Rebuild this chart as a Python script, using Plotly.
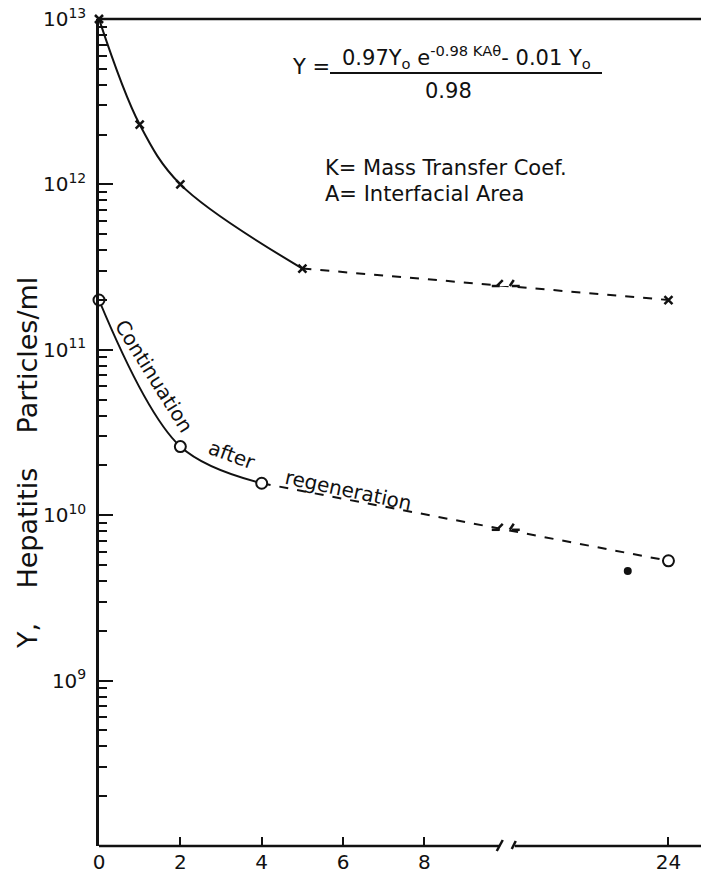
import math
import plotly.graph_objects as go

# ---------------- data (hours, particles/ml) ----------------
hours_upper = [0, 1, 2, 5, 24]
values_upper = [1.0e13, 2.3e12, 1.0e12, 3.1e11, 2.0e11]

hours_lower = [0, 2, 4, 24]
values_lower = [2.0e11, 2.6e10, 1.56e10, 5.3e9]

hours_extra = [23]
values_extra = [4.6e9]

x_tick_hours = [0, 2, 4, 6, 8, 24]
x_tick_labels = ["0", "2", "4", "6", "8", "24"]
y_tick_vals = [1e9, 1e10, 1e11, 1e12, 1e13]
y_tick_labels = ["10<sup>9</sup>", "10<sup>10</sup>", "10<sup>11</sup>",
                 "10<sup>12</sup>", "10<sup>13</sup>"]

BREAK_AT = 10   # axis position of the scale break
GAP = 10        # hours skipped by the break


def axis_pos(h):
    return h if h <= BREAK_AT else h - GAP


# ---------------- layout geometry ----------------
W, H = 701, 873
L, R, T, B = 99, 0, 19, 27
PW, PH = W - L - R, H - T - B


def px(x):
    return (x - L) / PW


def py(y):
    return (H - B - y) / PH


FONT = "DejaVu Sans"
BLACK = "#111111"

fig = go.Figure()

up_x = [axis_pos(h) for h in hours_upper]
lo_x = [axis_pos(h) for h in hours_lower]

# upper series: solid curve to 5 h, dashed afterwards
fig.add_trace(go.Scatter(x=up_x[:4], y=values_upper[:4], mode="lines",
                         line=dict(color=BLACK, width=2, shape="spline", smoothing=1.0),
                         hoverinfo="skip", showlegend=False))
fig.add_trace(go.Scatter(x=up_x[3:], y=values_upper[3:], mode="lines",
                         line=dict(color=BLACK, width=2, dash="9px,9px"),
                         hoverinfo="skip", showlegend=False))
# lower series: solid curve to 4 h, dashed afterwards
fig.add_trace(go.Scatter(x=lo_x[:3], y=values_lower[:3], mode="lines",
                         line=dict(color=BLACK, width=2, shape="spline", smoothing=1.0),
                         hoverinfo="skip", showlegend=False))
fig.add_trace(go.Scatter(x=lo_x[2:], y=values_lower[2:], mode="lines",
                         line=dict(color=BLACK, width=2, dash="9px,9px"),
                         hoverinfo="skip", showlegend=False))

# markers
fig.add_trace(go.Scatter(x=up_x, y=values_upper, mode="markers", cliponaxis=False,
                         marker=dict(symbol="x-thin", size=8,
                                     line=dict(color=BLACK, width=2.5)),
                         showlegend=False))
fig.add_trace(go.Scatter(x=lo_x, y=values_lower, mode="markers", cliponaxis=False,
                         marker=dict(symbol="circle", size=11, color="white",
                                     line=dict(color=BLACK, width=2)),
                         showlegend=False))
fig.add_trace(go.Scatter(x=[axis_pos(h) for h in hours_extra], y=values_extra,
                         mode="markers",
                         marker=dict(symbol="circle", size=8, color=BLACK),
                         showlegend=False))

# ---------------- scale-break decorations ----------------
shapes = []


def loginterp(x0, y0, x1, y1, x):
    t = (x - x0) / (x1 - x0)
    return 10 ** (math.log10(y0) + t * (math.log10(y1) - math.log10(y0)))


def break_mark(yanchor, yref="y"):
    common = dict(xref="x", yref=yref, xsizemode="pixel", ysizemode="pixel",
                  xanchor=BREAK_AT, yanchor=yanchor)
    shapes.append(dict(type="rect", x0=-6, x1=5, y0=-5, y1=5,
                       fillcolor="white", line=dict(width=0), **common))
    shapes.append(dict(type="line", x0=-14, x1=-6, y0=0, y1=0,
                       line=dict(color=BLACK, width=2.5), **common))
    shapes.append(dict(type="line", x0=6, x1=14, y0=0, y1=0,
                       line=dict(color=BLACK, width=2.5), **common))
    shapes.append(dict(type="line", x0=-3, x1=-9, y0=6, y1=-6,
                       line=dict(color=BLACK, width=2.5), **common))
    shapes.append(dict(type="line", x0=8, x1=4, y0=6, y1=-6,
                       line=dict(color=BLACK, width=2.5), **common))


break_mark(loginterp(up_x[3], values_upper[3], up_x[4], values_upper[4], BREAK_AT))
break_mark(loginterp(lo_x[2], values_lower[2], lo_x[3], values_lower[3], BREAK_AT))

# axis lines (top border and bottom axis with break)
shapes.append(dict(type="line", xref="paper", yref="paper", x0=0, x1=1, y0=1, y1=1,
                   line=dict(color=BLACK, width=2.5)))
shapes.append(dict(type="line", xref="paper", yref="paper", x0=0, x1=1, y0=0, y1=0,
                   line=dict(color=BLACK, width=2.5)))
ax_common = dict(xref="x", yref="paper", xsizemode="pixel", ysizemode="pixel",
                 xanchor=BREAK_AT, yanchor=0)
shapes.append(dict(type="rect", x0=-6, x1=9, y0=-4, y1=4, fillcolor="white",
                   line=dict(width=0), **ax_common))
shapes.append(dict(type="line", x0=-3, x1=-9, y0=6, y1=-5,
                   line=dict(color=BLACK, width=2.5), **ax_common))
shapes.append(dict(type="line", x0=10, x1=6, y0=5, y1=-3,
                   line=dict(color=BLACK, width=2.5), **ax_common))

# fraction bar of the formula
shapes.append(dict(type="line", xref="paper", yref="paper",
                   x0=px(330), x1=px(602), y0=py(73), y1=py(73),
                   line=dict(color=BLACK, width=2)))

# ---------------- annotations ----------------
ann = []


def text(x, y, s, size=18, angle=0, xanchor="center"):
    ann.append(dict(x=px(x), y=py(y), xref="paper", yref="paper", text=s,
                    showarrow=False, textangle=angle, xanchor=xanchor,
                    yanchor="middle", font=dict(family=FONT, size=size, color=BLACK)))


text(311, 67, "Y =", 21)
text(466, 57, "0.97Y<sub>o</sub> e<sup>-0.98 KAθ</sup>- 0.01 Y<sub>o</sub>", 21)
text(448, 91, "0.98", 21)
text(323, 168, "K= Mass Transfer Coef.", 21, xanchor="left")
text(323, 194, "A= Interfacial Area", 21, xanchor="left")

text(154, 376, "Continuation", 20, angle=58)
text(232, 455, "after", 20, angle=20)
text(348, 490, "regeneration", 20, angle=12)

text(27, 463,
     "Y,&nbsp;&nbsp;&nbsp;&nbsp;Hepatitis&nbsp;&nbsp;&nbsp;&nbsp;Particles/ml",
     27, angle=-90)

minor_vals = [k * 10 ** n for n in range(8, 13) for k in range(2, 10)]

fig.update_layout(
    width=W, height=H,
    margin=dict(l=L, r=R, t=T, b=B),
    paper_bgcolor="white", plot_bgcolor="white",
    shapes=shapes, annotations=ann,
    font=dict(family=FONT, color=BLACK),
    xaxis=dict(range=[0, 14.8], showgrid=False, zeroline=False, showline=False,
               tickvals=[axis_pos(h) for h in x_tick_hours], ticktext=x_tick_labels,
               ticks="inside", ticklen=9, tickwidth=2, tickcolor=BLACK,
               ticklabelstandoff=2,
               tickfont=dict(family=FONT, size=20, color=BLACK)),
    yaxis=dict(type="log", range=[8, 13], showgrid=False, zeroline=False,
               showline=True, linecolor=BLACK, linewidth=2.5,
               tickvals=y_tick_vals, ticktext=y_tick_labels,
               ticks="inside", ticklen=14, tickwidth=2, tickcolor=BLACK,
               ticklabelstandoff=6,
               tickfont=dict(family=FONT, size=20, color=BLACK),
               minor=dict(tickvals=minor_vals, ticks="inside", ticklen=8,
                          tickwidth=2, tickcolor=BLACK, showgrid=False)),
)

fig.write_html("out.html",
               config={"displayModeBar": False},
               post_script="document.body.style.margin='0px';"
                           "document.body.style.overflow='hidden';")
